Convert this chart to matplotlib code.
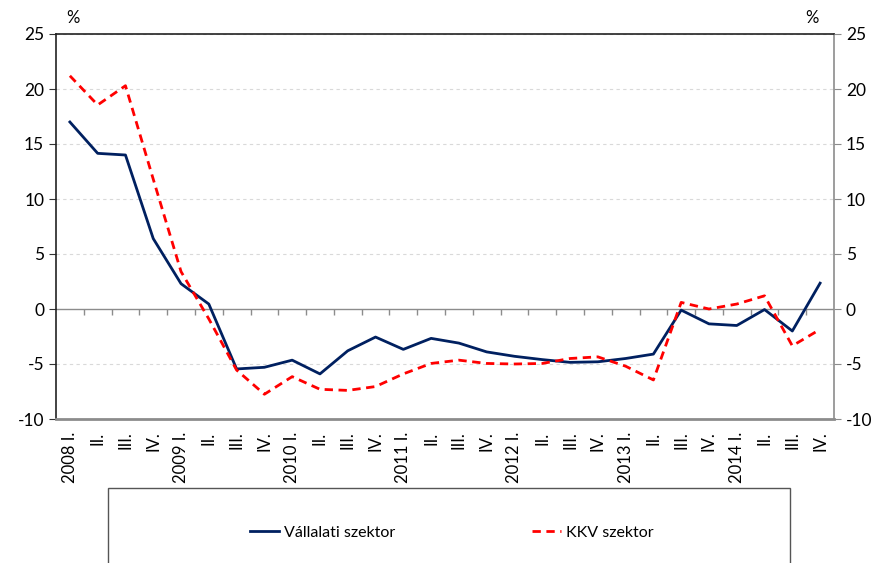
import matplotlib.pyplot as plt
from matplotlib.lines import Line2D
from matplotlib.patches import Rectangle

# quarterly growth, %
years = ["2008", "2009", "2010", "2011", "2012", "2013", "2014"]
quarters = ["I.", "II.", "III.", "IV."]
tick_labels = [f"{y} {q}" if q == "I." else q for y in years for q in quarters]

vallalati = [17.0, 14.15, 14.0, 6.4, 2.3, 0.45, -5.45, -5.3, -4.65, -5.9,
             -3.8, -2.55, -3.67, -2.67, -3.1, -3.9, -4.3, -4.6, -4.85, -4.8,
             -4.5, -4.1, -0.1, -1.35, -1.5, -0.05, -2.0, 2.35]
kkv = [21.2, 18.55, 20.3, 11.8, 3.4, -0.9, -5.55, -7.75, -6.15, -7.3,
       -7.4, -7.05, -5.9, -4.95, -4.65, -4.95, -5.0, -4.95, -4.5, -4.35,
       -5.2, -6.45, 0.6, 0.0, 0.45, 1.2, -3.35, -1.85]

plt.rcParams["font.family"] = ["Lato", "DejaVu Sans"]
plt.rcParams["axes.unicode_minus"] = False

fig = plt.figure(figsize=(8.77, 5.63), dpi=100)
ax = fig.add_axes([56 / 877, 1 - 419 / 563, (834 - 56) / 877, (419 - 34) / 563])
x = list(range(len(tick_labels)))

ax.set_xlim(-0.5, len(x) - 0.5)
ax.set_ylim(-10, 25)
ax.set_yticks(range(-10, 30, 5))
for v in range(-5, 30, 5):
    if v != 0:
        ax.axhline(v, color="#d9d9d9", lw=0.8, ls=(0, (3, 3)), zorder=0)
ax.axhline(0, color="#8c8c8c", lw=1.0, zorder=1)
ax.vlines([i + 0.5 for i in x[:-1]], -0.55, 0, color="#8c8c8c", lw=1.0, zorder=1)

ax.plot(x, vallalati, color="#002060", lw=2.0, label="Vállalati szektor", zorder=3)
ax.plot(x, kkv, color="#ff0000", lw=2.0, ls=(0, (3, 2)), label="KKV szektor", zorder=3)

ax.set_xticks(x)
ax.set_xticklabels(tick_labels, rotation=90, fontsize=12)
ax.tick_params(axis="x", length=0, pad=9)
ax.tick_params(axis="y", labelsize=12.5, length=5, color="#333333")

ax.spines["left"].set_color("#222222")
ax.spines["top"].set_color("#222222")
ax.spines["right"].set_color("#8c8c8c")
ax.spines["bottom"].set_color("#8c8c8c")
for s in ax.spines.values():
    s.set_linewidth(1.2)
ax.spines["bottom"].set_linewidth(2.0)

ax2 = ax.twinx()
ax2.set_ylim(-10, 25)
ax2.set_yticks(range(-10, 30, 5))
ax2.tick_params(axis="y", labelsize=12.5, length=5, color="#8c8c8c")
for s in ax2.spines.values():
    s.set_visible(False)

fig.text(73 / 877, 1 - 18 / 563, "%", fontsize=12, ha="center", va="center")
fig.text(812 / 877, 1 - 18 / 563, "%", fontsize=12, ha="center", va="center")

fig.add_artist(Rectangle((108 / 877, -0.05), (790 - 108) / 877, (563 - 488) / 563 + 0.05,
                         transform=fig.transFigure, fill=False, edgecolor="#555555", lw=1.0))
handles = [Line2D([], [], color="#002060", lw=2.0),
           Line2D([], [], color="#ff0000", lw=2.0, ls=(0, (3, 2)))]
fig.legend(handles, ["Vállalati szektor", "KKV szektor"], ncol=2, frameon=False,
           loc="center", bbox_to_anchor=(452 / 877, 1 - 533 / 563), fontsize=11.5,
           handlelength=1.8, handletextpad=0.3, columnspacing=8.6)

fig.savefig("out.png", dpi=100)
